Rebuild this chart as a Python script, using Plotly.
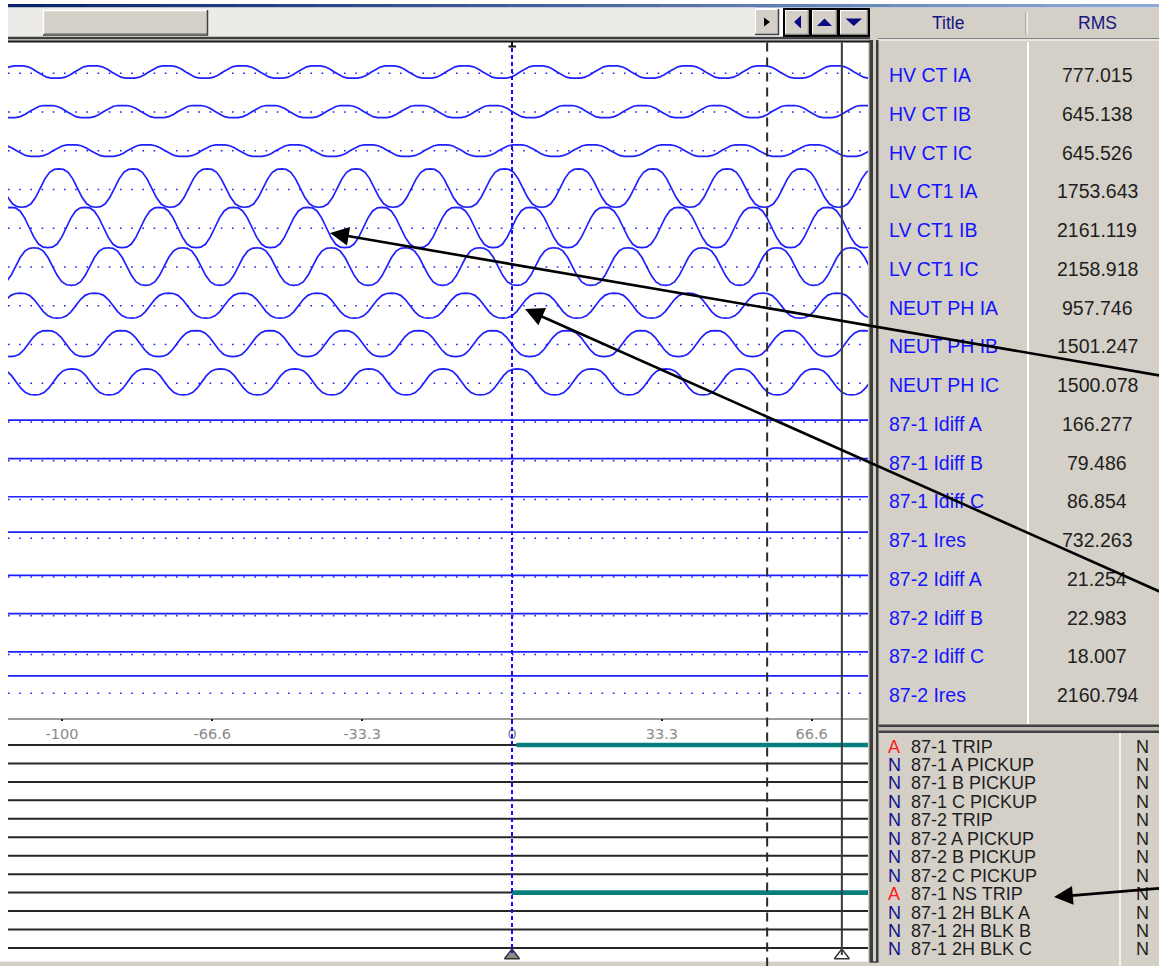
import numpy as np
import plotly.graph_objects as go

# ---------------- data ----------------
analog_titles = ["HV CT IA", "HV CT IB", "HV CT IC", "LV CT1 IA", "LV CT1 IB", "LV CT1 IC",
                 "NEUT PH IA", "NEUT PH IB", "NEUT PH IC", "87-1 Idiff A", "87-1 Idiff B",
                 "87-1 Idiff C", "87-1 Ires", "87-2 Idiff A", "87-2 Idiff B", "87-2 Idiff C",
                 "87-2 Ires"]
analog_rms = ["777.015", "645.138", "645.526", "1753.643", "2161.119", "2158.918", "957.746",
              "1501.247", "1500.078", "166.277", "79.486", "86.854", "732.263", "21.254",
              "22.983", "18.007", "2160.794"]
# displayed AC amplitude and DC level of each trace (display units)
analog_amplitude = [6.3, 6.2, 5.9, 19.2, 20.2, 18.8, 12.5, 13.0, 13.0, 0, 0, 0, 0, 0, 0, 0, 0]
analog_offset = [1.3, 0.5, 0.2, 1.5, 0.8, 0.5, 0.2, 1.0, 1.4, 2.0, 2.2, 2.8, 6.2, 1.7, 2.2, 2.6, 17.4]
# time (ms) of the first positive peak seen on each AC trace
analog_peak_ms = [-109.6, -103.1, -97.8, -100.7, -94.9, -106.2, -109.3, -103.3, -97.8,
                  None, None, None, None, None, None, None, None]
cycle_ms = 16.5
# one recorded cycle (16 samples, starting at the positive peak), normalised
cycle_shape = [1.0, 0.97, 0.82, 0.48, 0.0, -0.48, -0.82, -0.97,
               -1.0, -0.97, -0.82, -0.48, 0.0, 0.48, 0.82, 0.97]

digital_titles = ["87-1 TRIP", "87-1 A PICKUP", "87-1 B PICKUP", "87-1 C PICKUP", "87-2 TRIP",
                  "87-2 A PICKUP", "87-2 B PICKUP", "87-2 C PICKUP", "87-1 NS TRIP",
                  "87-1 2H BLK A", "87-1 2H BLK B", "87-1 2H BLK C"]
digital_flag = ["A", "N", "N", "N", "N", "N", "N", "N", "A", "N", "N", "N"]
digital_flag_right = ["N"] * 12
digital_assert_ms = [1.0, None, None, None, None, None, None, None, 0.0, None, None, None]

time_tick_ms = [-100, -66.6, -33.3, 0, 33.3, 66.6]
time_tick_text = ["-100", "-66.6", "-33.3", "0", "33.3", "66.6"]

trigger_ms = 0.0
cursor_a_ms = 56.7
cursor_b_ms = 73.3

# ---------------- layout constants (pixels) ----------------
W, H = 1159, 966
PX0, PX1 = 8, 868
T0, T1 = -112.0, 79.11
ROW0, ROW_STEP = 73.3, 38.75
DROW0, DROW_STEP = 745.0, 18.45
AXIS_Y = 718.5

WAVE = "#1f1fff"
PANEL = "#d4d0c8"
FONT = "Liberation Sans"

fig = go.Figure()
# anchor trace for the pixel subplot
fig.add_trace(go.Scatter(x=[None], y=[None], xaxis="x", yaxis="y", showlegend=False,
                         hoverinfo="skip"))

# ---------------- analog traces ----------------
for i, name in enumerate(analog_titles):
    base = ROW0 + ROW_STEP * i
    # dotted zero line
    fig.add_trace(go.Scatter(x=[T0, T1], y=[base, base], xaxis="x2", yaxis="y", mode="lines",
                             line=dict(color=WAVE, width=1.4, dash="1.6px,9.6px"),
                             hoverinfo="skip", showlegend=False))
    amp = analog_amplitude[i]
    off = analog_offset[i]
    if amp > 0:
        pk = analog_peak_ms[i]
        k0 = int(np.floor((T0 - 4 - pk) / cycle_ms))
        k1 = int(np.ceil((T1 + 4 - pk) / cycle_ms))
        n = k1 - k0
        t = pk + cycle_ms * (k0 + np.arange(n * 16) / 16.0)
        v = np.tile(np.array(cycle_shape), n)
        y = base - (off + amp * v)
    else:
        t = np.array([T0 - 2, T1 + 2])
        y = np.array([base - off, base - off])
    fig.add_trace(go.Scatter(x=t, y=y, xaxis="x2", yaxis="y", mode="lines",
                             line=dict(color=WAVE, width=1.7), name=name,
                             hoverinfo="skip", showlegend=False))

# ---------------- digital traces ----------------
for k, name in enumerate(digital_titles):
    yy = DROW0 + DROW_STEP * k
    fig.add_trace(go.Scatter(x=[T0, T1], y=[yy, yy], xaxis="x2", yaxis="y", mode="lines",
                             line=dict(color="#262626", width=2), hoverinfo="skip",
                             showlegend=False))
    if digital_assert_ms[k] is not None:
        fig.add_trace(go.Scatter(x=[digital_assert_ms[k], T1], y=[yy, yy], xaxis="x2",
                                 yaxis="y", mode="lines",
                                 line=dict(color="#077f7f", width=4.6), hoverinfo="skip",
                                 showlegend=False))

# cursor triangles
fig.add_trace(go.Scatter(x=[trigger_ms, cursor_b_ms], y=[955.5, 955.5], xaxis="x2", yaxis="y",
                         mode="markers",
                         marker=dict(symbol="triangle-up", size=13,
                                     color=["#8a8a8a", "#ffffff"],
                                     line=dict(color="#333333", width=1.4)),
                         hoverinfo="skip", showlegend=False))

shapes = []


def rect(x0, y0, x1, y1, fill, layer="below"):
    shapes.append(dict(type="rect", xref="x", yref="y", x0=x0, y0=y0, x1=x1, y1=y1,
                       fillcolor=fill, line=dict(width=0), layer=layer))


def hline(x0, x1, y, color, width=1, layer="below"):
    shapes.append(dict(type="line", xref="x", yref="y", x0=x0, x1=x1, y0=y, y1=y,
                       line=dict(color=color, width=width), layer=layer))


def vline(x, y0, y1, color, width=1, layer="below"):
    shapes.append(dict(type="line", xref="x", yref="y", x0=x, x1=x, y0=y0, y1=y1,
                       line=dict(color=color, width=width), layer=layer))


def tri(path, color, layer="below"):
    shapes.append(dict(type="path", xref="x", yref="y", path=path, fillcolor=color,
                       line=dict(width=0), layer=layer))


# top title-bar gradient line
c0 = np.array([10, 36, 106])
c1 = np.array([140, 170, 215])
nseg = 30
for s in range(nseg):
    f = s / (nseg - 1)
    c = (c0 + (c1 - c0) * f).astype(int)
    xa = PX0 + (W - PX0) * s / nseg
    xb = PX0 + (W - PX0) * (s + 1) / nseg + 0.5
    rect(xa, 4, xb, 7.5, "rgb(%d,%d,%d)" % tuple(c))

# scrollbar trough and thumb
rect(PX0, 7.5, 755, 37, "#ecebe7")
rect(43, 10, 208, 35.5, PANEL)
hline(43, 207, 10.5, "#ffffff", 1.5)
vline(43.5, 10, 35, "#ffffff", 1.5)
hline(43, 208, 35, "#404040", 1.5)
vline(207.5, 10, 35.5, "#404040", 1.5)
hline(44, 207, 33.8, "#808080", 1)

# small right button
rect(755, 9, 779, 35, PANEL)
hline(755, 779, 9.5, "#ffffff", 1)
vline(755.5, 9, 35, "#ffffff", 1)
hline(755, 779, 34.5, "#404040", 1.5)
vline(778.5, 9, 35, "#404040", 1.5)
tri("M 764 17.5 L 770 22 L 764 26.5 Z", "#000000")

# three navigation buttons
rect(783, 8, 870, 37, "#000000")
rect(785, 10, 809, 35, PANEL)
rect(812, 10, 837, 35, PANEL)
rect(840, 10, 868, 35, PANEL)
for xa, xb in [(785, 809), (812, 837), (840, 868)]:
    hline(xa, xb, 10.5, "#ffffff", 1)
    vline(xa + 0.5, 10, 35, "#ffffff", 1)
    hline(xa, xb, 34.3, "#808080", 1.2)
    vline(xb - 0.7, 10, 35, "#808080", 1.2)
tri("M 794 22 L 801 15.5 L 801 28.5 Z", "#0a0a80")
tri("M 817 26 L 824.5 18.5 L 832 26 Z", "#0a0a80")
tri("M 845.5 18.5 L 862 18.5 L 853.75 26 Z", "#0a0a80")

# header and right panel background
rect(870, 7.5, W, 37, PANEL)
rect(868, 37, W, H, PANEL)
vline(1027, 12, 34, "#ffffff", 1.5)
vline(1025.8, 12, 34, "#a0a0a0", 1)

# line below the scroll bar (plot area top border)
rect(PX0, 36.7, 870, 39.2, "#404040")
rect(PX0, 39.2, 870, 40.6, "#a8a8a8")
rect(PX0, 40.6, 870, 42.4, "#181818")
hline(878, W, 38.5, "#808080", 1)
hline(878, W, 40, "#ffffff", 1)

# vertical panel separator (double line)
rect(869.5, 40, 873, 962, "#3c3c3c")
rect(876, 40, 878.5, 962, "#3c3c3c")
hline(869.5, 878.5, 962, "#3c3c3c", 1.5)

# analog list column separator
vline(1028, 42, 724, "#ffffff", 2)

# separator between analog list and digital list
rect(878.5, 724.5, W, 727, "#404040")
rect(878.5, 727, W, 730.5, "#bdbab3")
rect(878.5, 730.5, W, 733, "#404040")
vline(1120, 733, H, "#ffffff", 1.5)

# bottom gray strip under the plot
rect(0, 961.5, 869.5, H, PANEL)

# cursor lines (time-referenced)
shapes.append(dict(type="line", xref="x2", yref="y", x0=cursor_a_ms, x1=cursor_a_ms,
                   y0=42.4, y1=H, line=dict(color="#2a2a2a", width=2, dash="9px,6px"),
                   layer="above"))
shapes.append(dict(type="line", xref="x2", yref="y", x0=cursor_b_ms, x1=cursor_b_ms,
                   y0=42.4, y1=955, line=dict(color="#3a3a3a", width=2), layer="above"))
shapes.append(dict(type="line", xref="x2", yref="y", x0=trigger_ms, x1=trigger_ms,
                   y0=48, y1=953, line=dict(color="#0d0dff", width=2, dash="4px,3px"),
                   layer="above"))
# small "T" marker on top of trigger line
shapes.append(dict(type="line", xref="x", yref="y", x0=508.5, x1=516, y0=46.5, y1=46.5,
                   line=dict(color="#111111", width=2), layer="above"))
shapes.append(dict(type="line", xref="x", yref="y", x0=512, x1=512, y0=42, y1=47,
                   line=dict(color="#111111", width=2), layer="above"))

annotations = []


def text(x, y, s, size, color, anchor="left", family=FONT):
    annotations.append(dict(x=x, y=y, xref="x", yref="y", text=s, showarrow=False,
                            xanchor=anchor, yanchor="middle",
                            font=dict(family=family, size=size, color=color)))


text(948, 22.5, "Title", 17.5, "#141482", "center")
text(1097, 22.5, "RMS", 17.5, "#141482", "center")

for i, name in enumerate(analog_titles):
    yy = ROW0 + ROW_STEP * i + 1.7
    text(887, yy, name, 19.5, "#1414ff", "left")
    text(1097, yy, analog_rms[i], 19.5, "#1e1e1e", "center")

for k, name in enumerate(digital_titles):
    yy = DROW0 + DROW_STEP * k + 1.5
    fl = digital_flag[k]
    text(894, yy, fl, 18, "#ff1a1a" if fl == "A" else "#10108c", "center")
    text(909, yy, name, 18, "#1e1e1e", "left")
    text(1142, yy, digital_flag_right[k], 18, "#1e1e1e", "center")

# arrows (head, tail) in pixels
arrows = [((330, 233), (1163, 376)), ((525, 309), (1163, 593)), ((1054, 897), (1163, 888))]
for (hx, hy), (tx, ty) in arrows:
    annotations.append(dict(x=hx, y=hy, xref="x", yref="y", ax=tx, ay=ty, axref="x",
                            ayref="y", text="", showarrow=True, arrowhead=2, arrowsize=1.45,
                            arrowwidth=2.6, arrowcolor="#000000", standoff=0))

fig.update_layout(
    width=W, height=H, margin=dict(l=0, r=0, t=0, b=0),
    paper_bgcolor="#ffffff", plot_bgcolor="rgba(0,0,0,0)",
    showlegend=False, hovermode=False,
    xaxis=dict(domain=[0, 1], range=[0, W], visible=False, anchor="y", fixedrange=True),
    yaxis=dict(domain=[0, 1], range=[H, 0], visible=False, anchor="x", fixedrange=True),
    xaxis2=dict(domain=[PX0 / W, PX1 / W], range=[T0, T1], anchor="free",
                position=1 - AXIS_Y / H, side="bottom", showline=True,
                linecolor="#9a9a9a", linewidth=1.5, showgrid=False, zeroline=False,
                ticks="outside", ticklen=2, tickwidth=2, tickcolor="#222222",
                tickvals=time_tick_ms, ticktext=time_tick_text,
                tickfont=dict(family="DejaVu Sans", size=14.5, color="#8a8a8a"),
                fixedrange=True),
    shapes=shapes, annotations=annotations,
)

fig.write_html("out.html", config={"displayModeBar": False},
               post_script="document.body.style.margin='0px';"
                           "document.body.style.overflow='hidden';")
